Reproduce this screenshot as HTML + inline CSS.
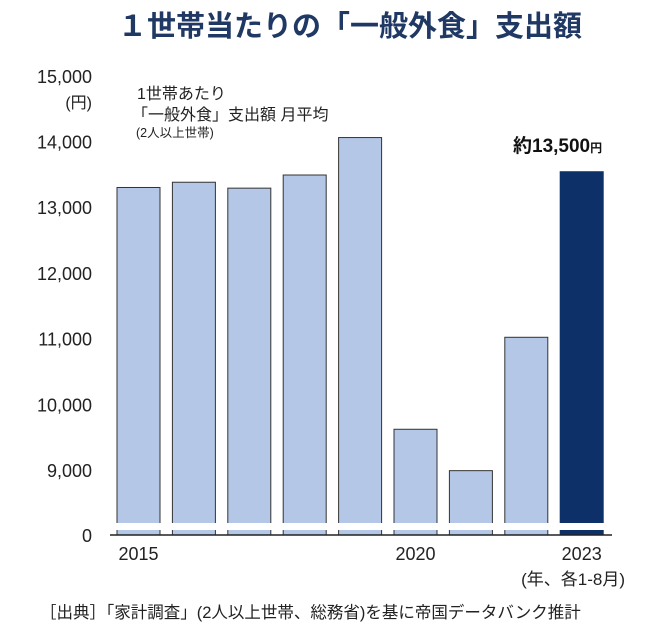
<!DOCTYPE html>
<html><head><meta charset="utf-8"><style>
body{margin:0;background:#fff;}
svg text{font-family:"Liberation Sans","Noto Sans CJK JP",sans-serif;}
</style></head><body>
<svg id="chart" width="650" height="639" viewBox="0 0 650 639">
<text x="350" y="36" text-anchor="middle" font-size="29" font-weight="bold" fill="#1f3864">１世帯当たりの「一般外食」支出額</text>
<g id="yaxis"></g>
<text x="92" y="108" text-anchor="end" font-size="16" fill="#222">(円)</text>
<g>
<text x="137" y="99" font-size="16" fill="#222">1世帯あたり</text>
<text x="132" y="120" font-size="16" fill="#222">「一般外食」支出額 月平均</text>
<text x="136" y="137" font-size="12.5" fill="#222">(2人以上世帯)</text>
</g>
<g id="bars"></g>
<line x1="110" y1="535" x2="612" y2="535" stroke="#222" stroke-width="1.5"/>
<g id="xaxis"></g>
<text x="625" y="585" text-anchor="end" font-size="17" fill="#222">(年、各1-8月)</text>
<text x="513" y="152" font-size="19" font-weight="bold" fill="#111">約13,500<tspan font-size="12">円</tspan></text>
<text x="40" y="618" font-size="16.5" fill="#222">［出典］「家計調査」(2人以上世帯、総務省)を基に帝国データバンク推計</text>
</svg>
<script>
const years=[2015,2016,2017,2018,2019,2020,2021,2022,2023];
const values=[13300,13380,13290,13490,14060,9620,8990,11020,13540];
const yTicks=[9000,10000,11000,12000,13000,14000,15000];
const xLabels=["2015","","","","","2020","","","2023"];
const ns="http://www.w3.org/2000/svg";
function y(v){return 470-(v-9000)*0.0657;}
function x(i){return 117+i*55.4;}
const bw=43;
const ya=document.getElementById('yaxis');
yTicks.forEach(t=>{const e=document.createElementNS(ns,'text');


e.setAttribute('x',92);e.setAttribute('y',y(t)+7);e.setAttribute('text-anchor','end');e.setAttribute('font-size','18');e.setAttribute('fill','#222');
e.textContent=t.toLocaleString('en-US');ya.appendChild(e);});
const z=document.createElementNS(ns,'text');


z.setAttribute('x',92);z.setAttribute('y',542);z.setAttribute('text-anchor','end');z.setAttribute('font-size','18');z.setAttribute('fill','#222');z.textContent='0';ya.appendChild(z);
const bg=document.getElementById('bars');
values.forEach((v,i)=>{const r=document.createElementNS(ns,'rect');


const last=i===values.length-1;
r.setAttribute('x',x(i));r.setAttribute('y',y(v));r.setAttribute('width',bw);r.setAttribute('height',535-y(v));
r.setAttribute('fill',last?'#0d3068':'#b4c7e7');r.setAttribute('stroke',last?'#0d3068':'#333');r.setAttribute('stroke-width','1');
bg.appendChild(r);});
const br=document.createElementNS(ns,'rect');


br.setAttribute('x',108);br.setAttribute('y',523);br.setAttribute('width',505);br.setAttribute('height',7);br.setAttribute('fill','#fff');
bg.appendChild(br);
const xa=document.getElementById('xaxis');
xLabels.forEach((l,i)=>{if(!l)return;const e=document.createElementNS(ns,'text');


e.setAttribute('x',x(i)+bw/2);e.setAttribute('y',560);e.setAttribute('text-anchor','middle');e.setAttribute('font-size','18');e.setAttribute('fill','#222');
e.textContent=l;xa.appendChild(e);});
</script>
</body></html>
